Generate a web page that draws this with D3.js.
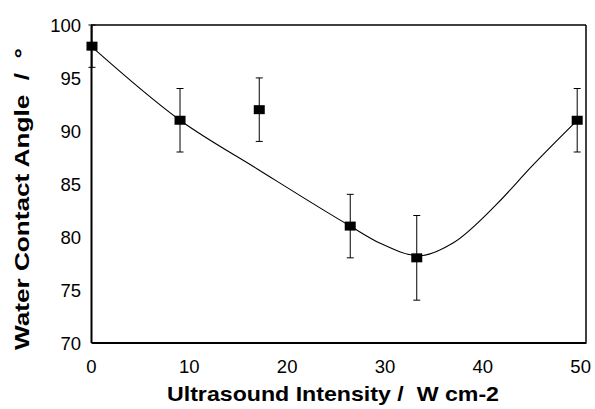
<!DOCTYPE html>
<html><head><meta charset="utf-8">
<script src="https://cdn.jsdelivr.net/npm/d3@7"></script>
<style>body{margin:0;background:#fff}svg{display:block}</style>
</head><body>
<svg id="c" width="595" height="409"></svg>
<script>
// Data
const intensity = [0.1, 9.1, 17.2, 26.5, 33.3, 49.7];
const angle     = [98, 91, 92, 81, 78, 91];
const errLow    = [96, 88, 89, 78, 74, 88];
const errHigh   = [100, 94, 95, 84, 82, 94];
const fitX = [0, 9.1, 17, 26.5, 29.5, 33.6, 37, 41.5, 45, 49.7];
const fitY = [98, 91, 86.4, 81, 79.4, 78.2, 79.4, 83.1, 86.6, 91];
const xTicks = [0, 10, 20, 30, 40, 50];
const yTicks = [70, 75, 80, 85, 90, 95, 100];

const svg = d3.select("#c");
const x = d3.scaleLinear().domain([0, 50.6]).range([91, 586]);
const y = d3.scaleLinear().domain([70, 100]).range([342.5, 25]);
const font = "Liberation Sans, Arial, sans-serif";

// frame
svg.append("line").attr("x1", x(0)).attr("x2", x(50.6)).attr("y1", y(100)).attr("y2", y(100)).attr("stroke", "#000").attr("stroke-width", 1.5);
svg.append("line").attr("x1", x(50.6)).attr("x2", x(50.6)).attr("y1", y(100)).attr("y2", y(70)).attr("stroke", "#000").attr("stroke-width", 1.5);

// axes
const xAxis = d3.axisBottom(x).tickValues(xTicks).tickSize(0).tickPadding(17).tickFormat(d3.format("d"));
const gx = svg.append("g").attr("transform", `translate(0,${y(70)})`).call(xAxis);
const yAxis = d3.axisLeft(y).tickValues(yTicks).tickSize(0).tickPadding(10).tickFormat(d3.format("d"));
const gy = svg.append("g").attr("transform", `translate(${x(0)},0)`).call(yAxis);
[gx, gy].forEach(g => {
  g.select(".domain").attr("stroke", "#000").attr("stroke-width", 2);
  g.selectAll("text").attr("font-family", font).attr("font-size", 18.5).attr("fill", "#000");
});
gx.selectAll("text").attr("dy", null).attr("dominant-baseline", null).attr("y", 30.5);
gy.selectAll("text").attr("dy", "0.36em");

// fit curve
const line = d3.line().x((d, i) => x(fitX[i])).y((d, i) => y(fitY[i])).curve(d3.curveMonotoneX);
svg.append("path").datum(fitX).attr("d", line).attr("fill", "none").attr("stroke", "#000").attr("stroke-width", 1.1);

// error bars
const pts = intensity.map((v, i) => ({x: v, y: angle[i], lo: errLow[i], hi: errHigh[i]}));
const eb = svg.append("g").attr("stroke", "#000").attr("stroke-width", 1);
pts.forEach(p => {
  eb.append("line").attr("x1", x(p.x)).attr("x2", x(p.x)).attr("y1", y(p.lo)).attr("y2", y(p.hi));
  [p.lo, p.hi].forEach(v => eb.append("line").attr("x1", x(p.x) - 3.5).attr("x2", x(p.x) + 3.5).attr("y1", y(v)).attr("y2", y(v)));
});

// markers
svg.append("g").selectAll("rect").data(pts).join("rect")
  .attr("x", d => x(d.x) - 5.5).attr("y", d => y(d.y) - 4.5)
  .attr("width", 11).attr("height", 9).attr("fill", "#000");

// titles
svg.append("text").attr("x", 333).attr("y", 400.5).attr("text-anchor", "middle")
  .attr("font-family", font).attr("font-weight", "bold").attr("font-size", 21)
  .attr("textLength", 332).attr("lengthAdjust", "spacingAndGlyphs")
  .style("white-space", "pre")
  .text("Ultrasound Intensity /  W cm-2");
svg.append("text").attr("transform", "translate(29,199) rotate(-90)").attr("text-anchor", "middle")
  .attr("font-family", font).attr("font-weight", "bold").attr("font-size", 21)
  .attr("textLength", 302).attr("lengthAdjust", "spacingAndGlyphs")
  .style("white-space", "pre")
  .text("Water Contact Angle  /  °");
</script>
</body></html>
